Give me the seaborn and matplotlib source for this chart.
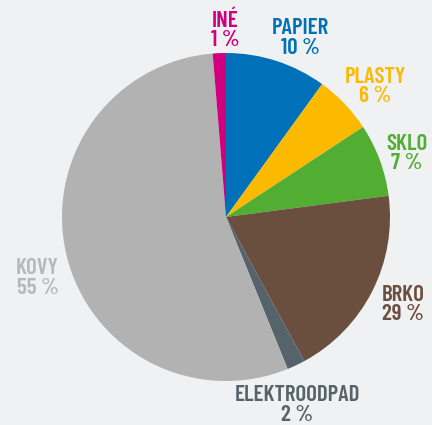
import matplotlib
matplotlib.use("Agg")
import matplotlib.pyplot as plt
import seaborn as sns

categories = ["PAPIER", "PLASTY", "SKLO", "BRKO", "ELEKTROODPAD", "KOVY", "INÉ"]
values = [10, 5.8, 7.2, 19.2, 1.8, 55, 1.3]
pct_labels = ["10 %", "6 %", "7 %", "29 %", "2 %", "55 %", "1 %"]
colors = ["#0070b8", "#fbb900", "#52ae32", "#6b4f3e", "#56636b", "#b2b2b2", "#d0007f"]
text_colors = ["#0070b8", "#fbb900", "#52ae32", "#6b4f3e", "#56636b", "#b8b8b8", "#d0007f"]

sns.set_style("white")
bg = "#f0f1f3"
plt.rcParams['font.family'] = ['Barlow Condensed', 'Roboto Condensed', 'DejaVu Sans']

W, H = 432, 425
fig = plt.figure(figsize=(W / 100, H / 100), dpi=100, facecolor=bg)
cx, cy, r = 226, 217, 164
ax = fig.add_axes([(cx - r) / W, (H - cy - r) / H, 2 * r / W, 2 * r / H])
ax.set_facecolor(bg)
ax.pie(values, colors=colors, startangle=90, counterclock=False, radius=1,
       wedgeprops=dict(linewidth=0))
ax.set_xlim(-1, 1)
ax.set_ylim(-1, 1)
ax.set_aspect("auto")
ax.axis("off")

# label anchor positions in pixels (center of two-line block)
label_pos = [(300, 38), (375, 86.5), (407, 153.5), (403, 304.5), (297, 405), (37.5, 278), (225, 30)]
for cat, pl, tc, (px, py) in zip(categories, pct_labels, text_colors, label_pos):
    fig.text(px / W, 1 - py / H, f"{cat}\n{pl}", color=tc, ha="center", va="center",
             fontsize=16.5, fontweight="semibold", linespacing=0.95)

fig.savefig("out.png", dpi=100, facecolor=bg)
